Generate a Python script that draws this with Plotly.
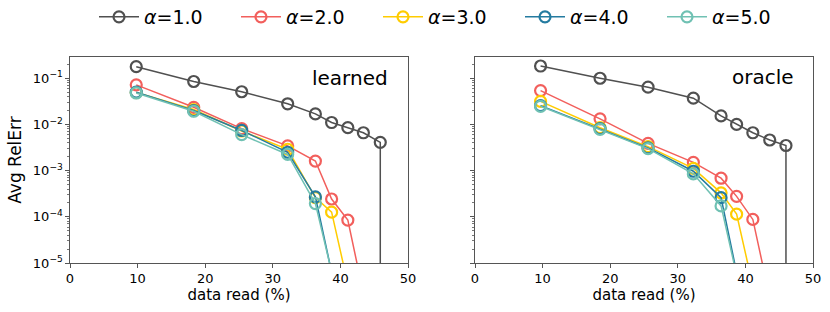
import plotly.graph_objects as go
from plotly.subplots import make_subplots

labels = ["<i>α</i>=1.0", "<i>α</i>=2.0", "<i>α</i>=3.0", "<i>α</i>=4.0", "<i>α</i>=5.0"]
colors = ["#505050", "#F25F5C", "#FFCC00", "#247BA0", "#70C1B3"]

# learned panel
learned_x = [
    [9.8, 18.3, 25.4, 32.2, 36.3, 38.7, 41.1, 43.4, 45.9, 45.9],
    [9.8, 18.3, 25.4, 32.2, 36.3, 38.7, 41.1, 43.4],
    [9.8, 18.3, 25.4, 32.2, 36.3, 38.7, 41.1],
    [9.8, 18.3, 25.4, 32.2, 36.3, 38.7],
    [9.8, 18.3, 25.4, 32.2, 36.3, 38.7],
]
learned_y = [
    [0.178, 0.085, 0.051, 0.028, 0.0169, 0.011, 0.0085, 0.0066, 0.0041, 1e-9],
    [0.072, 0.0235, 0.0081, 0.00343, 0.00161, 0.000243, 0.000085, 2.2e-6],
    [0.049, 0.021, 0.0072, 0.0029, 0.00026, 0.000126, 3.5e-6],
    [0.050, 0.020, 0.0074, 0.0025, 0.00027, 6.3e-6],
    [0.048, 0.0193, 0.0060, 0.00224, 0.000193, 6.5e-6],
]

# oracle panel
oracle_x = [
    [9.7, 18.5, 25.6, 32.3, 36.4, 38.7, 41.1, 43.6, 46.0, 46.0],
    [9.7, 18.5, 25.6, 32.3, 36.4, 38.7, 41.1, 43.6],
    [9.7, 18.5, 25.6, 32.3, 36.4, 38.7, 41.1],
    [9.7, 18.5, 25.6, 32.3, 36.4, 38.7],
    [9.7, 18.5, 25.6, 32.3, 36.4, 38.7],
]
oracle_y = [
    [0.184, 0.100, 0.064, 0.037, 0.0153, 0.010, 0.0066, 0.0046, 0.0035, 1e-9],
    [0.054, 0.0132, 0.0039, 0.00151, 0.000685, 0.000277, 0.0000877, 1.8e-6],
    [0.0316, 0.0085, 0.0033, 0.00112, 0.00033, 0.000114, 3.2e-6],
    [0.0255, 0.0081, 0.0031, 0.00097, 0.00026, 6.2e-6],
    [0.0247, 0.0078, 0.0030, 0.00085, 0.000172, 5.5e-6],
]

panel_names = ["learned", "oracle"]
x_ticks = [0, 10, 20, 30, 40, 50]
y_tickvals = [1e-5, 1e-4, 1e-3, 1e-2, 1e-1]
y_ticktext = ["10<sup>−5</sup>", "10<sup>−4</sup>", "10<sup>−3</sup>", "10<sup>−2</sup>", "10<sup>−1</sup>"]

FONT = "DejaVu Sans"
W, H = 830, 312
L, R, T, B = 70, 17, 57, 48.5
PW = W - L - R

fig = make_subplots(rows=1, cols=2, horizontal_spacing=0.0)

for col, (xs, ys) in enumerate([(learned_x, learned_y), (oracle_x, oracle_y)], start=1):
    for i in range(len(labels)):
        fig.add_trace(
            go.Scatter(
                x=xs[i], y=ys[i], mode="lines+markers", name=labels[i],
                legendgroup=labels[i], showlegend=(col == 1),
                line=dict(color=colors[i], width=1.5),
                marker=dict(symbol="circle-open", size=11, color=colors[i], line=dict(width=2.2, color=colors[i])),
            ),
            row=1, col=col,
        )

axis_common = dict(showline=True, linecolor="#555555", linewidth=1.2, mirror=True, automargin=False,
                   ticks="outside", ticklen=3.5, tickcolor="#555555", showgrid=False, zeroline=False,
                   tickfont=dict(family=FONT, size=13, color="black"))
minor = dict(ticks="outside", ticklen=2, tickcolor="#777777", dtick="D1", showgrid=False)

fig.update_layout(
    width=W, height=H,
    margin=dict(l=L, r=R, t=T, b=B, autoexpand=False),
    plot_bgcolor="white", paper_bgcolor="white",
    font=dict(family=FONT, color="black"),
    legend=dict(orientation="h", x=94 / W, xanchor="left", xref="container",
                y=1 - 17 / H, yanchor="middle", yref="container",
                font=dict(family=FONT, size=19), itemwidth=40, entrywidth=87,
                tracegroupgap=0),
    xaxis=dict(domain=[0, (408 - L) / PW], range=[0, 50], tickvals=x_ticks, **axis_common,
               title=dict(text="data read (%)", font=dict(family=FONT, size=15), standoff=4)),
    xaxis2=dict(domain=[(475 - L) / PW, 1], range=[0, 50], tickvals=x_ticks, **axis_common,
                title=dict(text="data read (%)", font=dict(family=FONT, size=15), standoff=4)),
    yaxis=dict(domain=[0, 1], type="log", range=[-5, -0.54],
               tickvals=y_tickvals, ticktext=y_ticktext, **axis_common, minor=minor,
               title=dict(text="Avg RelErr", font=dict(family=FONT, size=17), standoff=6)),
    yaxis2=dict(domain=[0, 1], type="log", range=[-5, -0.54],
                tickvals=y_tickvals, showticklabels=False, **axis_common, minor=minor),
)

fig.add_annotation(text=panel_names[0], xref="x domain", yref="y domain", x=0.947, y=0.898,
                   xanchor="right", yanchor="middle", showarrow=False, font=dict(family=FONT, size=20))
fig.add_annotation(text=panel_names[1], xref="x2 domain", yref="y2 domain", x=0.95, y=0.905,
                   xanchor="right", yanchor="middle", showarrow=False, font=dict(family=FONT, size=20))

fig.write_html("out.html", config={"displayModeBar": False},
               post_script="document.body.style.margin='0';document.body.style.padding='0';")
